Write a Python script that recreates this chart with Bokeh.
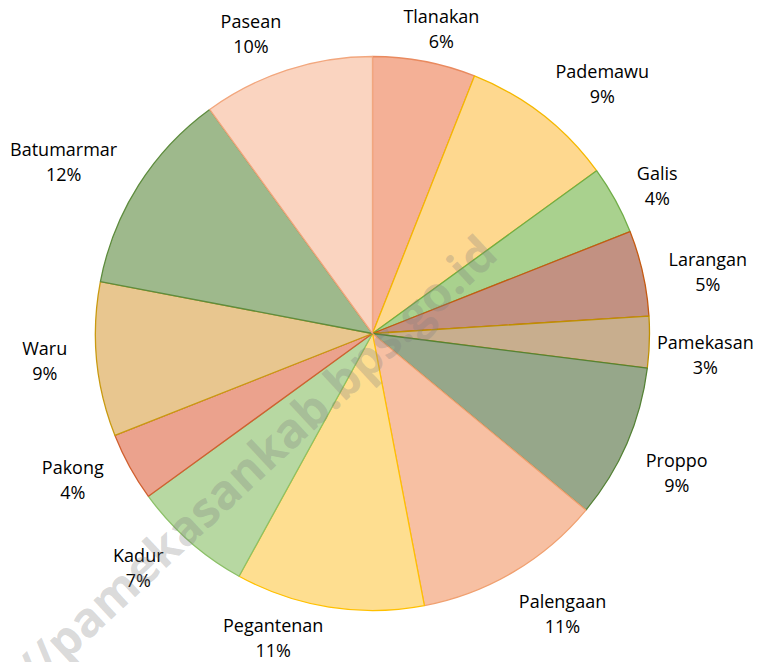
import math
from bokeh.plotting import figure
from bokeh.models import Range1d, ColumnDataSource
from bokeh.core.properties import value
from bokeh.embed import file_html
from bokeh.resources import INLINE

# ---- data ----
districts = ["Tlanakan", "Pademawu", "Galis", "Larangan", "Pamekasan", "Proppo",
             "Palengaan", "Pegantenan", "Kadur", "Pakong", "Waru", "Batumarmar", "Pasean"]
shares = [6, 9, 4, 5, 3, 9, 11, 11, 7, 4, 9, 12, 10]

# ---- styles / layout ----
fill_colors = ["#F4B096", "#FED88F", "#A9D18E", "#C29182", "#C8AE8E", "#96A78A",
               "#F7C0A3", "#FEDE90", "#B7D8A2", "#EBA28D", "#E8C68F", "#9EB98C", "#FAD4C0"]
line_colors = ["#E98A5F", "#F5B800", "#70AD47", "#C55A11", "#BF9000", "#548235",
               "#F0A070", "#FFC000", "#8CC068", "#D06030", "#C99A10", "#5E8C3E", "#F2A77E"]
# label offset (pixels, right / down) from the slice's outer edge midpoint
label_dx = [17, 60, 42, 65, 56, 50, 49, -56, -51, -57, -52, -75, -36]
label_dy = [-33, -31, -15, -2, 12, 29, 42, 30, 26, 13, 1, -24, -37]

W, H = 761, 662
p = figure(width=W, height=H, output_backend="svg", toolbar_location=None,
           x_range=Range1d(0, W), y_range=Range1d(0, H), min_border=0)
p.axis.visible = False
p.grid.visible = False
p.outline_line_color = None

cx, cy, R = 372, 329, 277
total = sum(shares)
starts, ends, mids = [], [], []
cum = 0.0
for s in shares:
    f0 = cum / total
    cum += s
    f1 = cum / total
    starts.append(math.pi / 2 - f0 * 2 * math.pi)
    ends.append(math.pi / 2 - f1 * 2 * math.pi)
    mids.append((f0 + f1) / 2 * 2 * math.pi)  # clockwise from top

src = ColumnDataSource(dict(x=[cx] * len(shares), y=[cy] * len(shares), start=starts, end=ends,
                            fill=fill_colors, line=line_colors))
p.wedge(x="x", y="y", radius=R, start_angle="start", end_angle="end", direction="clock",
        fill_color="fill", line_color="line", line_width=1.3, source=src)

lx, ly, pct = [], [], []
for s, th, dx, dy in zip(shares, mids, label_dx, label_dy):
    lx.append(cx + R * math.sin(th) + dx)
    ly.append(cy + R * math.cos(th) - dy)
    pct.append(f"{s}%")

lsrc = ColumnDataSource(dict(x=lx, y=ly, name=districts, pct=pct))
p.text(x="x", y="y", text="name", source=lsrc, text_align="center", text_baseline="middle",
       y_offset=-12.5, text_font=value("Open Sans"), text_font_size="18px", text_color="#000000")
p.text(x="x", y="y", text="pct", source=lsrc, text_align="center", text_baseline="middle",
       y_offset=12.5, text_font=value("Open Sans"), text_font_size="18px", text_color="#000000")

# watermark
p.text(x=[487], y=[419], text=["http://pamekasankab.bps.go.id"], angle=0.75,
       text_align="right", text_baseline="middle", text_font=value("Open Sans"),
       text_font_style="bold", text_font_size="48px", text_color="#7f7f7f", text_alpha=0.3)

open("out.html", "w").write(file_html(p, INLINE))
